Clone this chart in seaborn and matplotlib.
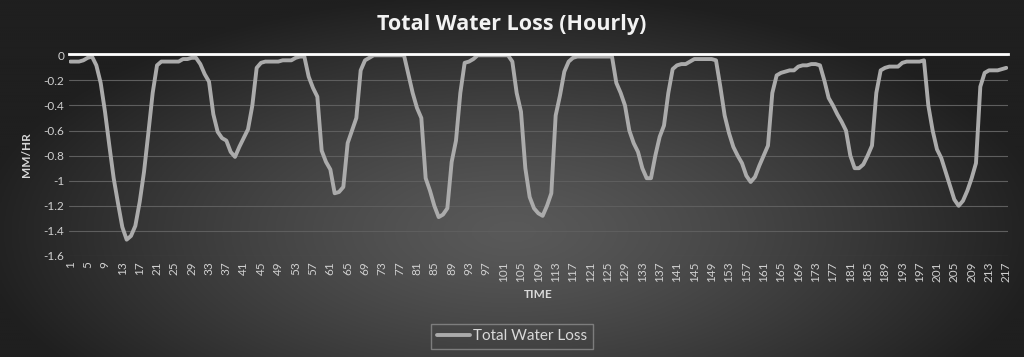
import numpy as np
import pandas as pd
import matplotlib
matplotlib.use("Agg")
import matplotlib.pyplot as plt
import seaborn as sns

sns.set_theme(style="dark")
plt.rcParams["font.family"] = ["Lato", "DejaVu Sans"]

# hourly water loss (mm/hr), hours 1..217
hours = list(range(1, 218))
loss = [
    -0.05, -0.05, -0.05, -0.04, -0.02, -0.01, -0.08, -0.22, -0.45, -0.72,
    -0.98, -1.18, -1.37, -1.47, -1.44, -1.36, -1.17, -0.93, -0.62, -0.30,
    -0.08, -0.05, -0.05, -0.05, -0.05, -0.05, -0.03, -0.03, -0.02, -0.02,
    -0.07, -0.15, -0.21, -0.47, -0.61, -0.66, -0.68, -0.77, -0.81, -0.73,
    -0.66, -0.59, -0.40, -0.10, -0.06, -0.05, -0.05, -0.05, -0.05, -0.04,
    -0.04, -0.04, -0.02, -0.01, -0.01, -0.17, -0.26, -0.33, -0.76, -0.85,
    -0.91, -1.10, -1.09, -1.05, -0.70, -0.60, -0.50, -0.12, -0.04, -0.02,
    0.00, 0.00, 0.00, 0.00, 0.00, 0.00, 0.00, 0.00, -0.15, -0.30,
    -0.42, -0.50, -0.98, -1.08, -1.20, -1.29, -1.27, -1.22, -0.85, -0.68,
    -0.30, -0.06, -0.05, -0.03, 0.00, 0.00, 0.00, 0.00, 0.00, 0.00,
    0.00, 0.00, -0.05, -0.30, -0.45, -0.90, -1.13, -1.22, -1.26, -1.28,
    -1.20, -1.10, -0.48, -0.32, -0.13, -0.05, -0.02, -0.01, -0.01, -0.01,
    -0.01, -0.01, -0.01, -0.01, -0.01, -0.01, -0.22, -0.30, -0.40, -0.60,
    -0.70, -0.77, -0.90, -0.98, -0.98, -0.80, -0.65, -0.56, -0.30, -0.11,
    -0.08, -0.07, -0.07, -0.05, -0.03, -0.03, -0.03, -0.03, -0.03, -0.04,
    -0.25, -0.48, -0.62, -0.73, -0.80, -0.86, -0.96, -1.01, -0.97, -0.88,
    -0.80, -0.72, -0.30, -0.16, -0.14, -0.13, -0.12, -0.12, -0.09, -0.08,
    -0.08, -0.07, -0.07, -0.08, -0.20, -0.34, -0.40, -0.47, -0.53, -0.60,
    -0.80, -0.90, -0.90, -0.87, -0.80, -0.72, -0.30, -0.12, -0.10, -0.09,
    -0.09, -0.09, -0.06, -0.05, -0.05, -0.05, -0.05, -0.04, -0.40, -0.60,
    -0.75, -0.82, -0.93, -1.04, -1.15, -1.20, -1.16, -1.08, -0.98, -0.86,
    -0.25, -0.14, -0.12, -0.12, -0.12, -0.11, -0.10,
]
y_ticks = [0, -0.2, -0.4, -0.6, -0.8, -1, -1.2, -1.4, -1.6]
y_labels = ["0", "-0.2", "-0.4", "-0.6", "-0.8", "-1", "-1.2", "-1.4", "-1.6"]
x_ticks = list(range(1, 218, 4))

df = pd.DataFrame({"TIME": hours, "Total Water Loss": loss})

fig = plt.figure(figsize=(10.24, 3.57), dpi=100)

# radial gradient background
bg = fig.add_axes([0, 0, 1, 1], zorder=-10)
gx, gy = np.meshgrid(np.linspace(-1, 1, 512), np.linspace(-1, 1, 180))
r = np.sqrt((gx / 1.05) ** 2 + ((gy - 0.3) / 1.35) ** 2)
r = np.clip(r, 0, 1) ** 1.3
inner = np.array([0x59, 0x59, 0x59]) / 255
outer = np.array([0x1f, 0x1f, 0x1f]) / 255
img = inner[None, None, :] * (1 - r[..., None]) + outer[None, None, :] * r[..., None]
bg.imshow(img, aspect="auto", extent=[0, 1, 0, 1], origin="upper")
bg.axis("off")

ax = fig.add_axes([0.067, 0.283, 0.917, 0.567])
ax.set_facecolor("none")
sns.lineplot(data=df, x="TIME", y="Total Water Loss", ax=ax, color="#ababab",
             linewidth=2.8, label="Total Water Loss", zorder=3)

ax.set_xlim(0.6, 217.3)
ax.set_ylim(-1.6, 0.014)
ax.set_yticks(y_ticks)
ax.set_yticklabels(y_labels)
ax.set_xticks(x_ticks)
ax.set_xticklabels([str(t) for t in x_ticks], rotation=90)
ax.tick_params(axis="both", colors="#d0d0d0", labelsize=8.5, length=0, pad=3)
ax.tick_params(axis="x", pad=4)
ax.grid(axis="y", color="#5e5e5e", linewidth=0.8)
ax.grid(axis="x", visible=False)
for s in ax.spines.values():
    s.set_visible(False)
# the horizontal axis line sits at zero, drawn above the series
ax.spines["top"].set_visible(True)
ax.spines["top"].set_color("white")
ax.spines["top"].set_linewidth(2.0)
ax.spines["top"].set_zorder(4)

ax.set_xlabel("TIME", color="#d9d9d9", fontsize=8.5, fontweight="bold", labelpad=5)
ax.set_ylabel("MM/HR", color="#d9d9d9", fontsize=8.5, fontweight="bold", labelpad=8)

fig.suptitle("Total Water Loss (Hourly)", x=0.5, y=0.96, color="#f2f2f2",
             fontsize=15.5, fontweight="bold", family=["Open Sans", "DejaVu Sans"])

leg = ax.legend(loc="center", bbox_to_anchor=(0.5, 0.058), bbox_transform=fig.transFigure,
                frameon=True, fontsize=11, handlelength=2.2, handletextpad=0.2,
                borderpad=0.35, borderaxespad=0, fancybox=False)
leg.get_frame().set_facecolor("none")
leg.get_frame().set_edgecolor("#8c8c8c")
leg.get_frame().set_linewidth(1.0)
for t in leg.get_texts():
    t.set_color("#d9d9d9")

fig.savefig("out.png", dpi=100)
